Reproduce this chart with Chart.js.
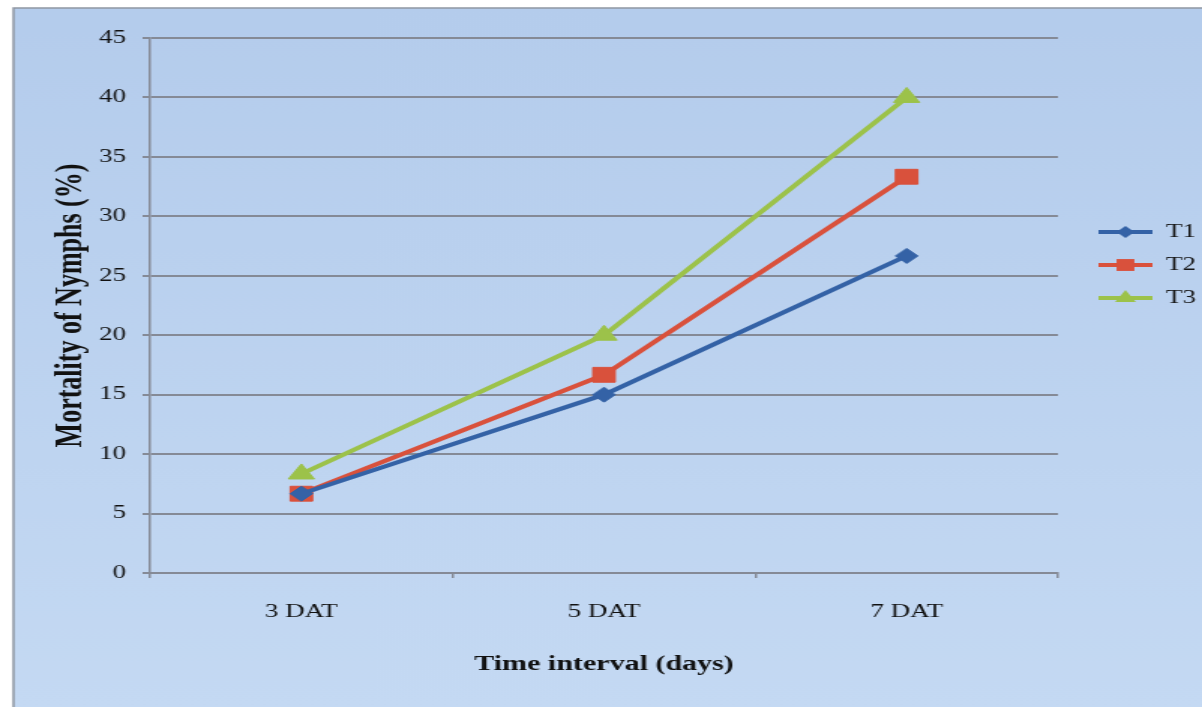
<!DOCTYPE html>
<html>
<head>
<meta charset="utf-8">
<script src="https://cdn.jsdelivr.net/npm/chart.js@4.4.1/dist/chart.umd.min.js"></script>
<style>
  html, body { margin: 0; padding: 0; background: #ffffff; }
  #c { position: absolute; left: 0; top: 0; width: 1202px; height: 707px; }
</style>
</head>
<body>
<canvas id="c" width="801" height="707" style="width:1202px;height:707px"></canvas>
<script>
// ---- data ----
const categories = ['3 DAT', '5 DAT', '7 DAT'];
const seriesNames = ['T1', 'T2', 'T3'];
const t1Values = [6.67, 15.0, 26.67];
const t2Values = [6.67, 16.67, 33.33];
const t3Values = [8.33, 20.0, 40.0];
const yTicks = [0, 5, 10, 15, 20, 25, 30, 35, 40, 45];

const colors = ['#3462a6', '#d9513c', '#9cc24a'];
const pointStyles = ['rectRot', 'rect', 'triangle'];
const pointRadii = [7.5, 10.5, 10];
const serif = '"Liberation Serif", "Times New Roman", serif';

function legendImage(color, style, radius) {
  const cv = document.createElement('canvas');
  cv.width = 48; cv.height = 22;
  const g = cv.getContext('2d');
  g.strokeStyle = color; g.lineWidth = 4;
  g.beginPath(); g.moveTo(12, 11); g.lineTo(48, 11); g.stroke();
  g.fillStyle = color;
  g.beginPath();
  const r = radius * 0.8;
  if (style === 'rect') { const s = r * Math.SQRT1_2; g.rect(30 - s, 11 - s, 2 * s, 2 * s); }
  else if (style === 'rectRot') { g.moveTo(30, 11 - r); g.lineTo(30 + r, 11); g.lineTo(30, 11 + r); g.lineTo(30 - r, 11); g.closePath(); }
  else { g.moveTo(30, 11 - r); g.lineTo(30 + r * 0.866, 11 + r * 0.5); g.lineTo(30 - r * 0.866, 11 + r * 0.5); g.closePath(); }
  g.fill();
  return cv;
}

const frameBg = {
  id: 'frameBg',
  beforeDraw(chart) {
    const ctx = chart.ctx;
    ctx.save();
    ctx.fillStyle = '#ffffff';
    ctx.fillRect(0, 0, chart.width, chart.height);
    const grad = ctx.createLinearGradient(0, 8, 0, chart.height);
    grad.addColorStop(0, '#b4ccec');
    grad.addColorStop(1, '#c4d9f3');
    ctx.fillStyle = grad;
    ctx.fillRect(9, 8, chart.width - 9, chart.height - 8);
    ctx.strokeStyle = '#8f96a3';
    ctx.lineWidth = 1.5;
    ctx.strokeRect(9, 8, chart.width - 8, chart.height);
    ctx.restore();
  },
  beforeLayout(chart) {
    const lg = chart.legend;
    if (lg && !lg._fixedW) {
      const f = lg.fit;
      lg.fit = function () { f.call(this); this.width = 96; };
      lg._fixedW = true;
    }
  }
};

const datasets = [t1Values, t2Values, t3Values].map((vals, i) => ({
  label: seriesNames[i],
  data: vals,
  borderColor: colors[i],
  backgroundColor: colors[i],
  borderWidth: 4,
  pointStyle: pointStyles[i],
  pointRadius: pointRadii[i],
  pointHoverRadius: pointRadii[i],
  pointBorderWidth: 1,
  pointBackgroundColor: colors[i],
  pointBorderColor: colors[i],
  tension: 0,
  fill: false
}));

new Chart(document.getElementById('c'), {
  type: 'line',
  data: { labels: categories, datasets },
  plugins: [frameBg],
  options: {
    responsive: false,
    animation: false,
    devicePixelRatio: 1,
    layout: { padding: { top: 38, left: 0, right: 0, bottom: 0 } },
    plugins: {
      tooltip: { enabled: false },
      legend: {
        display: true,
        position: 'right',
        align: 'start',
        title: { display: true, text: '', font: { size: 10, lineHeight: 1 }, padding: { top: 160, bottom: 0 } },
        labels: {
          usePointStyle: true,
          pointStyleWidth: 48,
          padding: 15,
          color: '#151515',
          font: { family: serif, size: 18 },
          generateLabels(chart) {
            return chart.data.datasets.map((ds, i) => ({
              text: ds.label,
              fillStyle: colors[i],
              strokeStyle: colors[i],
              lineWidth: 0,
              pointStyle: legendImage(colors[i], pointStyles[i], pointRadii[i]),
              hidden: false,
              datasetIndex: i,
              fontColor: '#151515'
            }));
          }
        }
      }
    },
    scales: {
      x: {
        type: 'category',
        offset: true,
        afterFit(scale) { scale.height = 134; },
        grid: { display: true, drawOnChartArea: false, offset: true, tickLength: 5, color: '#858a96', lineWidth: 1.5 },
        border: { display: true, color: '#858a96', width: 2 },
        ticks: { color: '#111111', font: { family: serif, size: 18 }, padding: 23, maxRotation: 0 },
        title: { display: true, text: 'Time interval (days)', color: '#111111', font: { family: serif, size: 20, weight: 'bold' }, padding: { top: 0, bottom: 30 } }
      },
      y: {
        min: 0, max: 45,
        afterFit(scale) { scale.width = 100; },
        afterBuildTicks(scale) { scale.ticks = yTicks.map(v => ({ value: v })); },
        grid: { display: true, drawOnChartArea: true, tickLength: 5, color: '#858a96', lineWidth: 2 },
        border: { display: true, color: '#858a96', width: 1.5 },
        ticks: { color: '#111111', font: { family: serif, size: 18 }, padding: 11 },
        title: { display: true, text: 'Mortality of Nymphs (%)', color: '#111111', font: { family: serif, size: 26, weight: 'bold' }, padding: { top: 32, bottom: 0 } }
      }
    }
  }
});
</script>
</body>
</html>
